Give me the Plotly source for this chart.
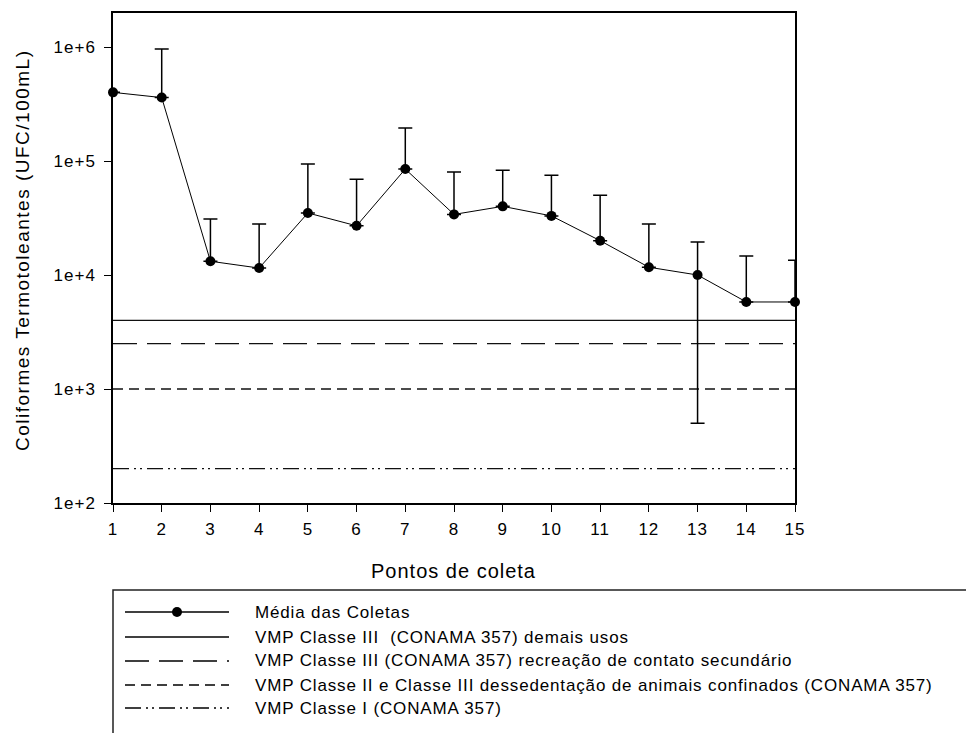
import plotly.graph_objects as go

# Sampling points and thermotolerant coliform results (UFC/100mL)
pontos = list(range(1, 16))
media = [4.0e5, 3.6e5, 1.32e4, 1.15e4, 3.5e4, 2.7e4, 8.5e4, 3.4e4,
         4.0e4, 3.3e4, 2.0e4, 1.17e4, 1.0e4, 5.8e3, 5.8e3]
desvio = [0, 6.0e5, 1.78e4, 1.65e4, 5.9e4, 4.2e4, 1.1e5, 4.6e4,
          4.3e4, 4.2e4, 3.0e4, 1.63e4, 9.5e3, 8.9e3, 7.7e3]

# CONAMA 357 maximum permitted values
limites = [4000, 2500, 1000, 200]
limites_dash = ["solid", "24px,10px", "10px,6px", "16px,5px,2px,4px,2px,5px"]

y_ticks = [1e2, 1e3, 1e4, 1e5, 1e6]
y_ticktext = ["1e+2", "1e+3", "1e+4", "1e+5", "1e+6"]

legend_labels = [
    "Média das Coletas",
    "VMP Classe III  (CONAMA 357) demais usos",
    "VMP Classe III (CONAMA 357) recreação de contato secundário",
    "VMP Classe II e Classe III dessedentação de animais confinados (CONAMA 357)",
    "VMP Classe I (CONAMA 357)",
]

W, H = 966, 733
L, R, T, B = 113, 795, 13, 503  # plot area in pixels
FONT = "Liberation Sans, Arial, sans-serif"


def spaced(txt, px):
    """Wrap text in a span with extra letter spacing."""
    return f'<span style="letter-spacing:{px}px">{txt}</span>'


# lower whisker only where it stays positive on the log scale
desvio_menos = [d if m - d > 0 else 0 for m, d in zip(media, desvio)]

fig = go.Figure()

for v, dsh in zip(limites, limites_dash):
    fig.add_trace(go.Scatter(
        x=[pontos[0], pontos[-1]], y=[v, v], mode="lines",
        line=dict(color="#111111", width=1.3, dash=dsh),
        showlegend=False, hoverinfo="skip"))

fig.add_trace(go.Scatter(
    x=pontos, y=media, mode="lines+markers",
    line=dict(color="black", width=1),
    marker=dict(color="black", size=10, symbol="circle"),
    error_y=dict(type="data", array=desvio, arrayminus=desvio_menos,
                 symmetric=False, color="black", thickness=1.5, width=7),
    cliponaxis=False, showlegend=False))


def px_x(p):
    return (p - L) / (R - L)


def px_y(p):
    return (B - p) / (B - T)


shapes = []
annotations = []

# legend frame
shapes.append(dict(type="rect", xref="paper", yref="paper",
                   x0=px_x(113), x1=px_x(980), y0=px_y(590), y1=px_y(760),
                   line=dict(color="#222222", width=1.5), fillcolor="white",
                   layer="above"))

rows = [612, 637, 661, 685, 708]
legend_dash = ["solid"] + limites_dash
for i, (yy, lab) in enumerate(zip(rows, legend_labels)):
    shapes.append(dict(type="line", xref="paper", yref="paper",
                       x0=px_x(125), x1=px_x(229), y0=px_y(yy), y1=px_y(yy),
                       line=dict(color="black", width=1.3, dash=legend_dash[i])))
    if i == 0:
        shapes.append(dict(type="circle", xref="paper", yref="paper",
                           x0=px_x(172), x1=px_x(182), y0=px_y(617), y1=px_y(607),
                           fillcolor="black", line=dict(color="black", width=0)))
    annotations.append(dict(text=spaced(lab, 0.85), xref="paper", yref="paper",
                            x=px_x(253), y=px_y(yy), xanchor="left", yanchor="middle",
                            showarrow=False, font=dict(family=FONT, size=17, color="black")))

# axis titles
annotations.append(dict(text=spaced("Pontos de coleta", 1), xref="paper", yref="paper",
                        x=px_x(453), y=px_y(571), xanchor="center", yanchor="middle",
                        showarrow=False, font=dict(family=FONT, size=20, color="black")))
annotations.append(dict(text=spaced("Coliformes Termotoleantes (UFC/100mL)", 1.5),
                        xref="paper", yref="paper",
                        x=px_x(22), y=px_y(250), xanchor="center", yanchor="middle",
                        textangle=-90, showarrow=False,
                        font=dict(family=FONT, size=19, color="black")))

fig.update_layout(
    width=W, height=H,
    margin=dict(l=L, r=W - R, t=T, b=H - B, pad=0),
    paper_bgcolor="white", plot_bgcolor="white",
    shapes=shapes, annotations=annotations,
    font=dict(family=FONT, color="black"),
    xaxis=dict(range=[1, 15], tickvals=pontos,
               ticktext=[spaced(str(p), 1) for p in pontos],
               ticks="outside", ticklen=7, ticklabelstandoff=3,
               tickwidth=1.3, tickcolor="black", showline=True, linecolor="black",
               linewidth=1.5, mirror=True, showgrid=False, zeroline=False,
               tickfont=dict(family=FONT, size=17, color="black")),
    yaxis=dict(type="log", range=[2, 2 + 490 / 114], tickvals=y_ticks,
               ticktext=[spaced(t, 1) for t in y_ticktext],
               ticks="outside", ticklen=7, tickwidth=1.3, ticklabelstandoff=5,
               tickcolor="black", showline=True, linecolor="black", linewidth=1.5,
               mirror=True, showgrid=False, zeroline=False,
               tickfont=dict(family=FONT, size=17, color="black")),
)

fig.write_html("out.html")
